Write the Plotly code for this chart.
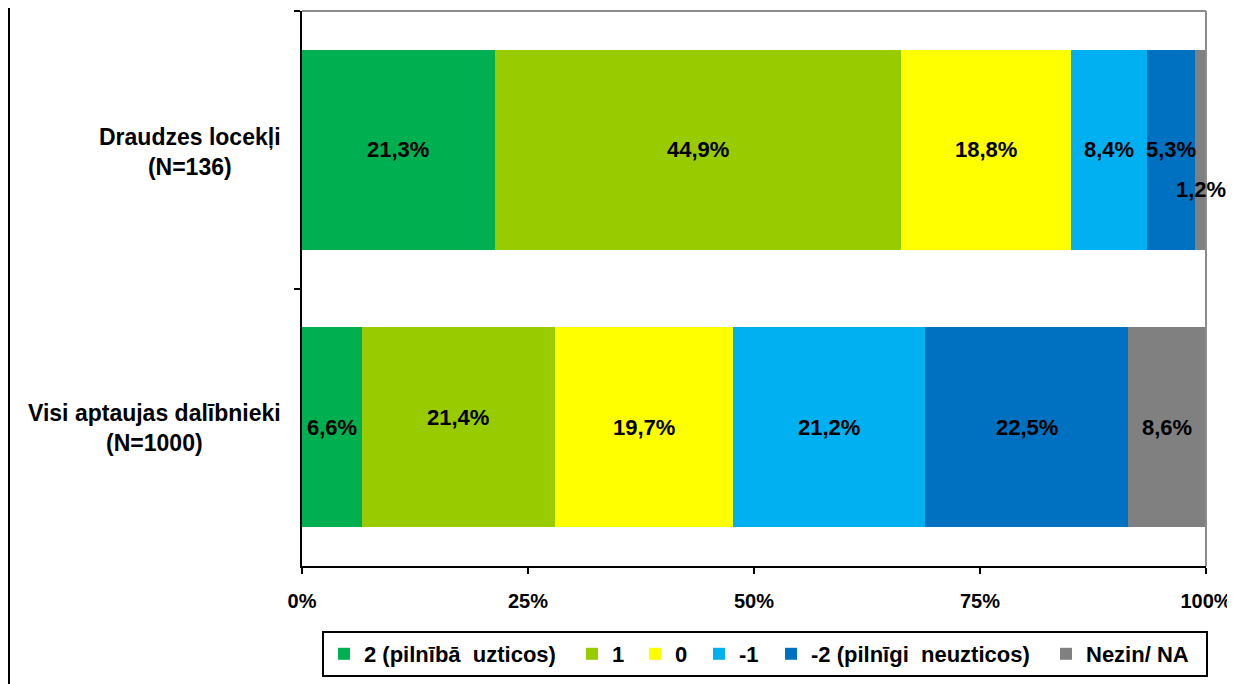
import plotly.graph_objects as go
import numpy as np

categories = ["Draudzes locekļi (N=136)", "Visi aptaujas dalībnieki (N=1000)"]
series_names = ["2 (pilnībā  uzticos)", "1", "0", "-1", "-2 (pilnīgi  neuzticos)", "Nezin/ NA"]
values_members = [21.3, 44.9, 18.8, 8.4, 5.3, 1.2]
values_all = [6.6, 21.4, 19.7, 21.2, 22.5, 8.6]
tick_vals = [0, 25, 50, 75, 100]
tick_labels = ["0%", "25%", "50%", "75%", "100%"]

colors = ["#00B050", "#99CC00", "#FFFF00", "#00B0F0", "#0070C0", "#808080"]
legend_widths = [203, 18, 19, 27, 230, 115]
FONT = "Liberation Sans, Arial, sans-serif"

# page has an 8px body margin: work in figure coordinates (page - 8)
OFF = 8
W, H = 1235 - OFF, 684 - OFF
ML, MR, MT, MB = 302 - OFF, 29, 11 - OFF, 118
PW, PH = W - ML - MR, H - MT - MB


def px_x(page_x):
    return (page_x - OFF - ML) / PW


def px_y(page_y):
    return 1 - (page_y - OFF - MT) / PH


fig = go.Figure()
rows = [values_members, values_all]
for i, name in enumerate(series_names):
    fig.add_trace(go.Bar(
        y=categories, x=[rows[0][i], rows[1][i]], name=name, orientation="h",
        marker=dict(color=colors[i], line=dict(width=0)),
        width=0.72, hoverinfo="skip", legendwidth=legend_widths[i],
    ))

# label offsets (style only)
label_yshift = {(0, 5): -40, (1, 1): 10}
cat_yshift = [-2, -1]

annotations = []
for r, vals in enumerate(rows):
    v = np.array(vals, dtype=float)
    norm = v / v.sum() * 100
    cum = np.cumsum(norm)
    for i in range(len(v)):
        xc = cum[i] - norm[i] / 2
        annotations.append(dict(
            x=xc, y=categories[r], xref="x", yref="y",
            text=f"{vals[i]:.1f}%".replace(".", ","), showarrow=False,
            font=dict(family=FONT, size=22, color="black", weight="bold"),
            yshift=label_yshift.get((r, i), 0),
        ))
    annotations.append(dict(
        x=px_x(283), xref="paper", y=categories[r], yref="y",
        text=categories[r].replace(" (", "<br>("), showarrow=False,
        xanchor="right", align="center", yshift=cat_yshift[r],
        font=dict(family=FONT, size=23, color="black", weight="bold"),
    ))

shapes = [
    dict(type="line", xref="paper", yref="paper", x0=0, x1=1, y0=1, y1=1,
         line=dict(color="#8C8C8C", width=2)),
    dict(type="line", xref="paper", yref="paper", x0=1, x1=1, y0=0, y1=1,
         line=dict(color="#8C8C8C", width=2)),
    dict(type="line", xref="paper", yref="paper", x0=px_x(9), x1=px_x(9),
         y0=px_y(700), y1=px_y(0), line=dict(color="black", width=2)),
]

fig.update_layout(
    width=W, height=H, barmode="stack", barnorm="percent",
    margin=dict(l=ML, r=MR, t=MT, b=MB),
    paper_bgcolor="white", plot_bgcolor="white",
    font=dict(family=FONT, color="black"),
    showlegend=True,
    legend=dict(
        orientation="h", x=px_x(322), xanchor="left",
        y=px_y(631), yanchor="top",
        bordercolor="black", borderwidth=2,
        font=dict(family=FONT, size=22, color="black", weight="bold"),
        traceorder="normal", itemclick=False, itemdoubleclick=False,
    ),
    xaxis=dict(
        range=[0, 100], tickvals=tick_vals, ticktext=tick_labels,
        ticks="outside", ticklen=6, tickwidth=2, tickcolor="black",
        showline=True, linecolor="black", linewidth=2,
        showgrid=False, zeroline=False, ticklabelstandoff=10,
        tickfont=dict(family=FONT, size=20, color="black", weight="bold"),
        fixedrange=True,
    ),
    yaxis=dict(
        type="category", categoryorder="array", categoryarray=categories,
        range=[1.5, -0.5], tickson="boundaries",
        ticks="outside", ticklen=6, tickwidth=2, tickcolor="black",
        showline=True, linecolor="black", linewidth=2,
        showgrid=False, showticklabels=False, fixedrange=True,
    ),
    annotations=annotations, shapes=shapes,
)

fig.write_html("out.html", config={"displayModeBar": False})
